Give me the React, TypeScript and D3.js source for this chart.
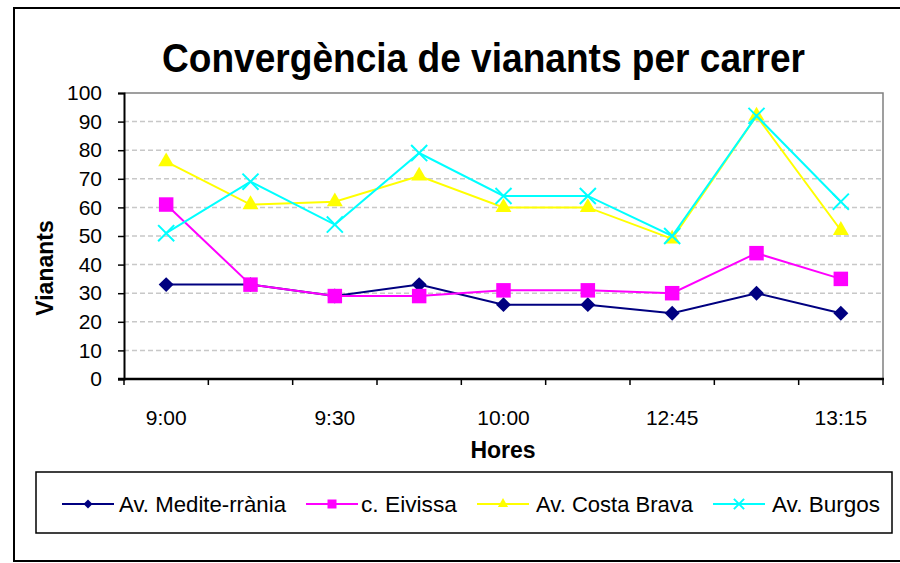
import { useEffect, useRef } from "react";
import * as d3 from "d3";

const categories = ["9:00", "9:15", "9:30", "9:45", "10:00", "10:15", "12:45", "13:00", "13:15"];
const mediterrania = [33, 33, 29, 33, 26, 26, 23, 30, 23];
const eivissa = [61, 33, 29, 29, 31, 31, 30, 44, 35];
const costaBrava = [76, 61, 62, 71, 60, 60, 49, 92, 52];
const burgos = [51, 69, 54, 79, 64, 64, 50, 92, 62];
const yTicks = [0, 10, 20, 30, 40, 50, 60, 70, 80, 90, 100];
const seriesNames = ["Av. Medite-rrània", "c. Eivissa", "Av. Costa Brava", "Av. Burgos"];

const FONT = "'Liberation Sans', Arial, sans-serif";

export default function App() {
    const svgRef = useRef<SVGSVGElement>(null);

    useEffect(() => {
        const width = 900;
        const height = 563;
        const svg = d3.select(svgRef.current);
        svg.selectAll("*").remove();

        const left = 124, right = 883, top = 93, bottom = 379;

        const x = d3.scaleBand().domain(categories).range([left, right]).padding(0);
        const y = d3.scaleLinear().domain([0, 100]).range([bottom, top]);
        const cx = (c: string) => (x(c) as number) + x.bandwidth() / 2;

        svg.append("rect").attr("width", width).attr("height", height).attr("fill", "#fff");

        // outer frame
        svg.append("rect")
            .attr("x", 14).attr("y", 8)
            .attr("width", 900).attr("height", 553)
            .attr("fill", "none").attr("stroke", "#000").attr("stroke-width", 2);

        // title
        svg.append("text")
            .attr("x", 162).attr("y", 72)
            .attr("font-family", FONT).attr("font-weight", "bold").attr("font-size", 41)
            .attr("textLength", 643).attr("lengthAdjust", "spacingAndGlyphs")
            .text("Convergència de vianants per carrer");

        // grid
        svg.append("g").selectAll("line")
            .data(yTicks.filter(t => t > 0 && t < 100))
            .enter().append("line")
            .attr("x1", left).attr("x2", right)
            .attr("y1", d => y(d)).attr("y2", d => y(d))
            .attr("stroke", "#c8c8c8").attr("stroke-width", 1.5)
            .attr("stroke-dasharray", "5,3");

        // plot border top/right
        svg.append("path")
            .attr("d", `M${left},${top}H${right}V${bottom}`)
            .attr("fill", "none").attr("stroke", "#808080").attr("stroke-width", 1.5);

        // Y axis
        const yAxis = svg.append("g")
            .attr("transform", `translate(${left},0)`)
            .call(d3.axisLeft(y).tickValues(yTicks).tickSize(6).tickPadding(16));
        yAxis.select(".domain").attr("stroke", "#000").attr("stroke-width", 2);
        yAxis.selectAll(".tick line").attr("stroke", "#000").attr("stroke-width", 1.5);
        yAxis.selectAll("text")
            .attr("font-family", FONT).attr("font-size", 21).attr("fill", "#000");

        // X axis
        const bounds = categories.map(c => x(c) as number).concat([right]);
        svg.append("g").selectAll("line")
            .data(bounds).enter().append("line")
            .attr("x1", d => d).attr("x2", d => d)
            .attr("y1", bottom).attr("y2", bottom + 6)
            .attr("stroke", "#000").attr("stroke-width", 1.5);
        svg.append("line")
            .attr("x1", left - 6).attr("x2", right + 1)
            .attr("y1", bottom).attr("y2", bottom)
            .attr("stroke", "#000").attr("stroke-width", 2.5);
        svg.append("g").selectAll("text")
            .data(categories.filter((_, i) => i % 2 === 0))
            .enter().append("text")
            .attr("x", d => cx(d)).attr("y", 425)
            .attr("text-anchor", "middle")
            .attr("font-family", FONT).attr("font-size", 21)
            .text(d => d);

        // axis titles
        svg.append("text")
            .attr("x", 503).attr("y", 458)
            .attr("text-anchor", "middle")
            .attr("font-family", FONT).attr("font-weight", "bold").attr("font-size", 23)
            .text("Hores");
        svg.append("text")
            .attr("transform", "translate(53,268) rotate(-90)")
            .attr("text-anchor", "middle")
            .attr("font-family", FONT).attr("font-weight", "bold").attr("font-size", 23)
            .text("Vianants");

        // series
        const series = [
            { name: seriesNames[0], values: mediterrania, color: "#000080", kind: "diamond" },
            { name: seriesNames[1], values: eivissa, color: "#FF00FF", kind: "square" },
            { name: seriesNames[2], values: costaBrava, color: "#FFFF00", kind: "triangle" },
            { name: seriesNames[3], values: burgos, color: "#00FFFF", kind: "x" },
        ];

        const symbolPath = (kind: string, big: boolean) => {
            if (kind === "diamond") return d3.symbol(d3.symbolSquare, big ? 112 : 40)();
            if (kind === "square") return d3.symbol(d3.symbolSquare, big ? 210 : 81)();
            if (kind === "triangle") return d3.symbol(d3.symbolTriangle, big ? 110 : 45)();
            return d3.symbol(d3.symbolX, big ? 170 : 70)();
        };

        const drawMarker = (g: any, kind: string, color: string, px: number, py: number, big: boolean) => {
            const p = g.append("path")
                .attr("d", symbolPath(kind, big))
                .attr("transform", `translate(${px},${py})${kind === "diamond" ? " rotate(45)" : ""}`);
            if (kind === "x") {
                p.attr("fill", "none").attr("stroke", color).attr("stroke-width", 2);
            } else {
                p.attr("fill", color).attr("stroke", "none");
            }
        };

        const line = d3.line<number>()
            .x((_, i) => cx(categories[i]))
            .y(d => y(d));

        series.forEach(s => {
            const g = svg.append("g");
            g.append("path")
                .attr("d", line(s.values))
                .attr("fill", "none").attr("stroke", s.color).attr("stroke-width", 2);
            s.values.forEach((v, i) => drawMarker(g, s.kind, s.color, cx(categories[i]), y(v), true));
        });

        // legend
        svg.append("rect")
            .attr("x", 36).attr("y", 472).attr("width", 856).attr("height", 61)
            .attr("fill", "#fff").attr("stroke", "#000").attr("stroke-width", 1.5);

        const legendItems = [
            { lx: 62, tx: 119, tw: 167 },
            { lx: 306, tx: 361, tw: 96 },
            { lx: 477, tx: 536, tw: 157 },
            { lx: 713, tx: 772, tw: 108 },
        ];
        const ly = 504;
        series.forEach((s, i) => {
            const it = legendItems[i];
            const g = svg.append("g");
            g.append("line")
                .attr("x1", it.lx).attr("x2", it.lx + 52)
                .attr("y1", ly).attr("y2", ly)
                .attr("stroke", s.color).attr("stroke-width", 2);
            drawMarker(g, s.kind, s.color, it.lx + 26, ly, false);
            g.append("text")
                .attr("x", it.tx).attr("y", ly + 8)
                .attr("font-family", FONT).attr("font-size", 22)
                .attr("textLength", it.tw).attr("lengthAdjust", "spacingAndGlyphs")
                .text(s.name);
        });
    }, []);

    return (
        <svg
            ref={svgRef}
            width={900}
            height={563}
            style={{ position: "absolute", left: 0, top: 0 }}
        ></svg>
    );
}
